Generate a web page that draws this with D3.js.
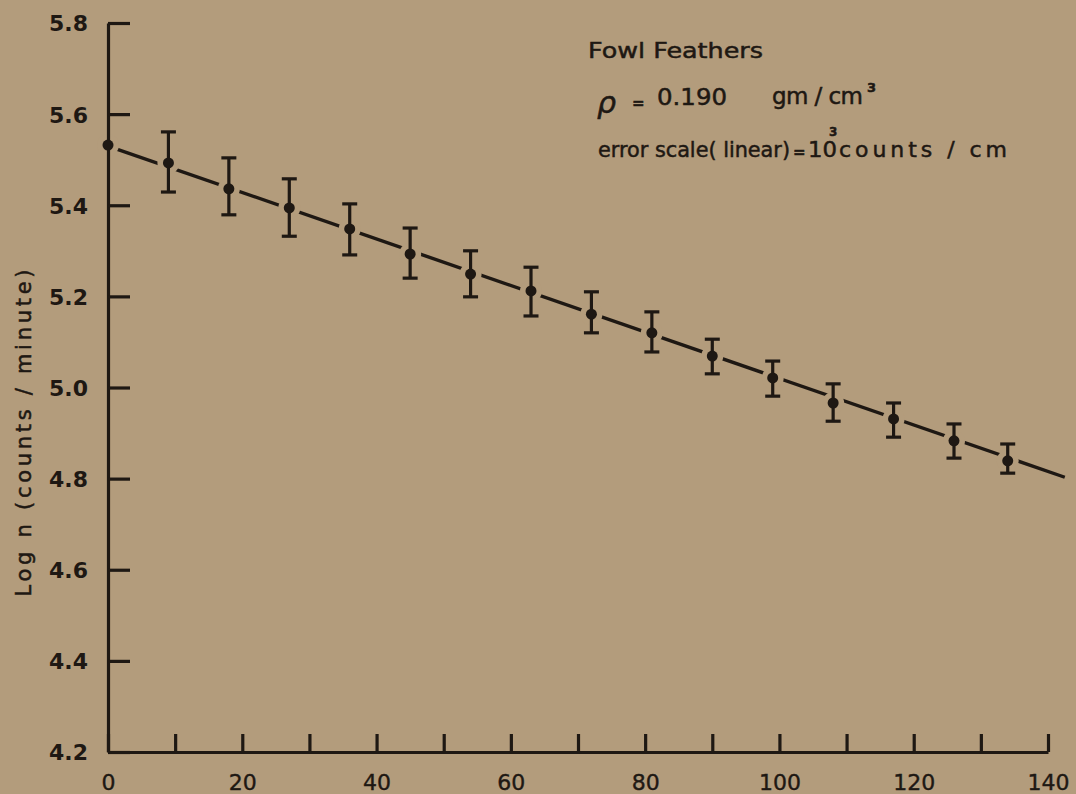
<!DOCTYPE html>
<html>
<head>
<meta charset="utf-8">
<script src="https://cdn.jsdelivr.net/npm/d3@7"></script>
<style>
  html, body { margin: 0; padding: 0; background: #b39c7c; }
  svg { display: block; }
  text { font-family: "DejaVu Sans", sans-serif; fill: #1e1813; }
  .note text, .ytitle { stroke: #1e1813; stroke-width: 0.5px; }
</style>
</head>
<body>
<svg id="chart" width="1076" height="794"></svg>
<script>
// thickness (x) and log counts (y)
var thickness = [0, 9, 18, 27, 36, 45, 54, 63, 72, 81, 90, 99, 108, 117, 126, 134];
var logCounts = [5.532, 5.493, 5.436, 5.394, 5.348, 5.293, 5.249, 5.212, 5.161, 5.120, 5.069, 5.021, 4.966, 4.931, 4.883, 4.839];
// error bar ends (null = no bar drawn)
var errHigh = [null, 5.561, 5.504, 5.458, 5.403, 5.350, 5.300, 5.264, 5.210, 5.166, 5.106, 5.058, 5.008, 4.966, 4.920, 4.876];
var errLow  = [null, 5.429, 5.379, 5.332, 5.291, 5.240, 5.199, 5.157, 5.120, 5.078, 5.030, 4.981, 4.926, 4.891, 4.845, 4.812];
// fitted straight line
var fitX = [0, 142.5];
var fitY = [5.530, 4.803];

var xTicks = d3.range(0, 141, 10);
var xLabels = [0, 20, 40, 60, 80, 100, 120, 140];
var yTicks = [4.2, 4.4, 4.6, 4.8, 5.0, 5.2, 5.4, 5.6, 5.8];

var ink = "#1e1813", paper = "#b39c7c";

var svg = d3.select("#chart");
var x = d3.scaleLinear().domain([0, 140]).range([108, 1048]);
var y = d3.scaleLinear().domain([4.2, 5.8]).range([752, 23]);

var pts = thickness.map(function(t, i){
	return {"x": t, "y": logCounts[i], "hi": errHigh[i], "lo": errLow[i]};
});

// fitted line
svg.append("path")
	.datum(fitX.map(function(v, i){ return [v, fitY[i]]; }))
	.attr("fill", "none")
	.attr("stroke", ink)
	.attr("stroke-width", 3.4)
	.attr("d", d3.line().x(function(d){ return x(d[0]); }).y(function(d){ return y(d[1]); }));

// gaps in the line around each point
svg.append("g").selectAll("circle").data(pts).join("circle")
	.attr("cx", function(d){ return x(d.x); })
	.attr("cy", function(d){ return y(d.y); })
	.attr("r", 11)
	.attr("fill", paper);

// axes
var xAxis = d3.axisBottom(x).tickValues(xTicks).tickSizeInner(-18).tickSizeOuter(0).tickPadding(22)
	.tickFormat(function(d){ return xLabels.indexOf(d) >= 0 ? d : ""; });
var gx = svg.append("g").attr("transform", "translate(0," + y(4.2) + ")").call(xAxis);
gx.selectAll("text").style("font-size", "22px").attr("fill", ink).attr("stroke", ink).attr("stroke-width", 0.4);

var yAxis = d3.axisLeft(y).tickValues(yTicks).tickSizeInner(-22).tickSizeOuter(0).tickPadding(20)
	.tickFormat(d3.format(".1f"));
var gy = svg.append("g").attr("transform", "translate(" + x(0) + ",0)").call(yAxis);
gy.selectAll("text").style("font-size", "22px").style("font-weight", "bold").attr("fill", ink).attr("dy", "0.36em");

svg.selectAll(".domain, .tick line").attr("stroke", ink).attr("stroke-width", 3.2);

// error bars
var eb = svg.append("g").attr("stroke", ink).attr("stroke-width", 3.2).attr("fill", "none");
var withErr = pts.filter(function(d){ return d.hi !== null; });
eb.selectAll("line.v").data(withErr).join("line").attr("class", "v")
	.attr("x1", function(d){ return x(d.x); }).attr("x2", function(d){ return x(d.x); })
	.attr("y1", function(d){ return y(d.hi); }).attr("y2", function(d){ return y(d.lo); });
eb.selectAll("line.t").data(withErr).join("line").attr("class", "t")
	.attr("x1", function(d){ return x(d.x) - 7.5; }).attr("x2", function(d){ return x(d.x) + 7.5; })
	.attr("y1", function(d){ return y(d.hi); }).attr("y2", function(d){ return y(d.hi); });
eb.selectAll("line.b").data(withErr).join("line").attr("class", "b")
	.attr("x1", function(d){ return x(d.x) - 7.5; }).attr("x2", function(d){ return x(d.x) + 7.5; })
	.attr("y1", function(d){ return y(d.lo); }).attr("y2", function(d){ return y(d.lo); });

// points
svg.append("g").selectAll("circle").data(pts).join("circle")
	.attr("cx", function(d){ return x(d.x); })
	.attr("cy", function(d){ return y(d.y); })
	.attr("r", 5.5)
	.attr("fill", ink);

// y axis title
svg.append("text").attr("class", "ytitle")
	.attr("transform", "translate(31,433) rotate(-90)")
	.attr("text-anchor", "middle")
	.attr("textLength", 327).attr("lengthAdjust", "spacing")
	.style("font-size", "21px")
	.text("Log n (counts / minute)");

// notes
var note = svg.append("g").attr("class", "note");
note.append("text").attr("x", 588).attr("y", 58).attr("textLength", 175).attr("lengthAdjust", "spacingAndGlyphs")
	.style("font-size", "22px").text("Fowl Feathers");
note.append("text").attr("x", 597).attr("y", 113)
	.style("font-size", "30px").style("font-style", "italic").text("ρ");
note.append("text").attr("x", 632).attr("y", 108)
	.style("font-size", "15px").style("font-weight", "bold").text("=");
note.append("text").attr("x", 657).attr("y", 105).attr("textLength", 70).attr("lengthAdjust", "spacingAndGlyphs")
	.style("font-size", "23px").text("0.190");
note.append("text").attr("x", 772).attr("y", 104).attr("textLength", 91).attr("lengthAdjust", "spacing")
	.style("font-size", "23px").text("gm / cm");
note.append("text").attr("x", 867).attr("y", 92)
	.style("font-size", "13px").style("font-weight", "bold").text("3");
note.append("text").attr("x", 598).attr("y", 157).attr("textLength", 192).attr("lengthAdjust", "spacingAndGlyphs")
	.style("font-size", "21px").text("error scale( linear)");
note.append("text").attr("x", 793).attr("y", 157)
	.style("font-size", "15px").style("font-weight", "bold").text("=");
note.append("text").attr("x", 808).attr("y", 157).attr("textLength", 29).attr("lengthAdjust", "spacingAndGlyphs")
	.style("font-size", "21px").text("10");
note.append("text").attr("x", 829).attr("y", 136)
	.style("font-size", "12px").style("font-weight", "bold").text("3");
note.append("text").attr("x", 839).attr("y", 157).attr("textLength", 168).attr("lengthAdjust", "spacing")
	.style("font-size", "22px").text("counts / cm");
</script>
</body>
</html>
